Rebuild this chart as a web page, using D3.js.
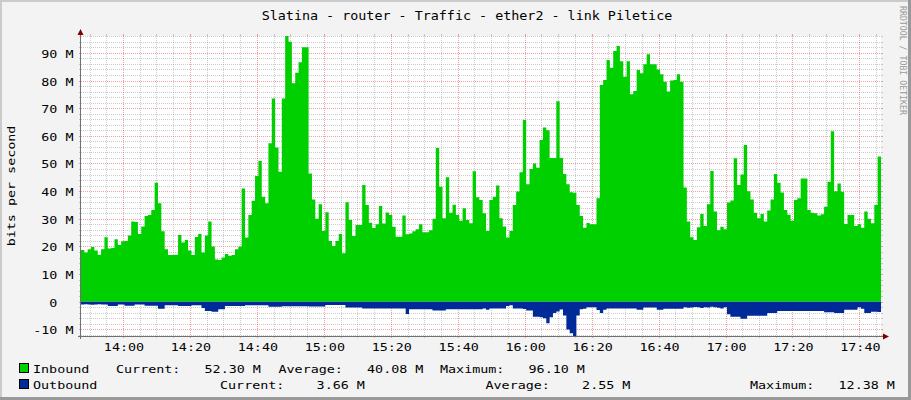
<!DOCTYPE html>
<html>
<head>
<meta charset="utf-8">
<script src="https://cdn.jsdelivr.net/npm/d3@7"></script>
<style>
  body { margin: 0; background: #fff; }
  text { font-family: "DejaVu Sans Mono", monospace; fill: #000; white-space: pre; }
</style>
</head>
<body>
<svg width="911" height="400"></svg>
<script>
// one sample per minute, Mbit/s
const startTime = new Date(2020, 0, 1, 13, 47, 27);
const stepMs = 60 * 1000;

const inbound = [
  18.7, 17.8, 19.0, 19.8, 18.5, 17.0, 19.0, 23.3, 19.3, 19.4,
  22.6, 20.5, 21.9, 22.0, 24.0, 29.0, 28.8, 24.5, 27.2, 31.0,
  31.4, 33.2, 43.0, 35.6, 25.5, 19.0, 16.9, 16.9, 17.0, 24.1,
  21.4, 22.3, 18.5, 16.9, 23.4, 24.5, 17.8, 24.0, 29.0, 20.0,
  15.3, 15.1, 16.0, 17.3, 16.6, 16.9, 19.0, 19.9, 41.0, 23.2,
  31.4, 36.5, 45.5, 50.9, 38.0, 35.6, 57.3, 73.5, 55.8, 47.0,
  73.5, 96.1, 94.0, 79.0, 82.8, 86.6, 92.0, 92.0, 46.4, 37.0,
  30.0, 35.3, 25.6, 32.4, 22.0, 20.2, 22.0, 24.5, 17.5, 36.0,
  29.6, 23.8, 27.8, 27.8, 42.2, 35.0, 28.6, 26.7, 28.0, 34.6,
  28.3, 32.3, 31.4, 27.1, 23.5, 23.5, 31.2, 24.4, 24.7, 25.5,
  26.2, 28.0, 25.1, 25.1, 25.9, 30.0, 55.6, 41.6, 30.2, 45.0,
  32.2, 35.1, 31.4, 29.3, 33.8, 29.6, 28.4, 47.2, 37.8, 36.8,
  32.0, 25.6, 36.8, 38.0, 42.0, 30.2, 27.2, 23.2, 25.6, 35.0,
  39.9, 46.8, 65.7, 42.5, 48.0, 50.0, 48.5, 58.5, 63.0, 62.0,
  52.0, 52.0, 72.5, 52.0, 46.2, 42.5, 39.6, 39.4, 35.0, 31.0,
  26.8, 28.5, 28.0, 28.0, 37.4, 78.4, 80.2, 87.4, 84.6, 90.7,
  92.5, 87.0, 81.4, 87.0, 75.0, 76.2, 83.8, 82.6, 85.9, 89.5,
  85.9, 85.9, 84.0, 82.3, 79.6, 76.0, 80.0, 80.2, 82.3, 79.6,
  41.3, 29.0, 23.3, 22.3, 26.9, 31.7, 27.4, 35.3, 47.3, 32.6,
  25.9, 27.1, 26.2, 35.9, 36.6, 51.9, 42.2, 46.0, 56.7, 40.0,
  37.0, 32.2, 30.2, 31.7, 29.0, 33.0, 37.0, 46.2, 43.0, 39.5,
  33.2, 31.5, 29.3, 36.8, 37.4, 44.6, 44.6, 33.2, 32.2, 32.0,
  31.2, 31.6, 34.4, 43.4, 61.7, 40.0, 42.8, 39.8, 28.1, 31.4,
  31.4, 27.4, 28.0, 26.8, 32.6, 30.0, 28.4, 35.0, 52.5
];

const outbound = [
  1.0, 0.9, 1.0, 1.1, 1.0, 0.9, 1.0, 1.0, 1.5, 1.5,
  1.5, 1.0, 1.0, 1.4, 1.4, 1.4, 1.0, 1.0, 1.0, 1.4,
  1.4, 1.4, 1.4, 2.5, 2.5, 1.3, 1.3, 1.3, 1.3, 1.5,
  1.5, 1.5, 1.5, 1.3, 1.3, 1.3, 2.3, 3.3, 3.3, 3.6,
  3.6, 2.7, 2.7, 1.5, 1.5, 1.5, 1.5, 1.5, 1.5, 1.3,
  1.3, 1.3, 1.3, 1.3, 1.3, 1.3, 1.8, 1.8, 1.8, 1.8,
  1.6, 1.6, 1.6, 1.6, 1.6, 1.6, 1.6, 1.6, 1.7, 1.7,
  1.7, 1.7, 1.7, 1.2, 1.2, 1.2, 1.2, 1.2, 1.2, 2.1,
  2.1, 2.1, 2.1, 2.1, 2.4, 2.4, 2.4, 2.4, 2.4, 2.4,
  2.4, 2.4, 2.4, 2.4, 2.4, 2.4, 2.4, 4.4, 2.7, 2.7,
  2.7, 2.7, 2.7, 2.7, 2.7, 3.2, 3.2, 3.2, 3.2, 2.7,
  2.7, 2.7, 2.7, 2.7, 2.7, 2.7, 2.7, 2.7, 2.7, 2.7,
  2.4, 2.9, 2.4, 2.4, 2.4, 2.4, 2.4, 1.5, 1.3, 2.4,
  2.4, 2.4, 2.6, 3.2, 3.2, 5.4, 5.4, 5.6, 6.0, 7.8,
  5.6, 4.1, 3.5, 2.8, 5.0, 10.0, 11.4, 12.38, 5.0, 2.7,
  2.5, 2.0, 2.0, 2.0, 3.0, 4.1, 2.9, 2.4, 2.4, 2.4,
  2.4, 2.4, 2.4, 2.4, 2.4, 2.4, 2.9, 2.9, 2.1, 2.1,
  2.1, 2.1, 2.9, 2.9, 2.5, 2.5, 2.5, 2.5, 2.5, 2.5,
  2.0, 2.2, 2.1, 1.9, 2.0, 2.3, 2.0, 2.1, 1.8, 2.0,
  2.2, 2.4, 2.0, 4.5, 5.4, 5.4, 5.4, 6.1, 6.1, 5.1,
  5.1, 5.1, 5.1, 5.1, 5.1, 4.1, 4.1, 4.1, 3.3, 3.3,
  3.3, 3.3, 3.3, 3.3, 3.3, 3.3, 3.3, 3.3, 3.3, 3.3,
  3.3, 3.3, 3.8, 3.8, 3.8, 4.1, 4.1, 4.1, 2.9, 2.9,
  2.9, 2.9, 2.0, 2.5, 4.1, 4.1, 3.6, 3.6, 3.66
];

const yDomain = [-12.38, 96.1];
const seriesNames = ["Inbound", "Outbound"];
const seriesColors = ["#00CF00", "#002A97"];
const currentVals = [52.30, 3.66];
const averageVals = [40.08, 2.55];
const maximumVals = [96.10, 12.38];
const titleText = "Slatina - router - Traffic - ether2 - link Piletice";
const yTitle = "bits per second";
const watermark = "RRDTOOL / TOBI OETIKER";

const CHAR_W = 8.05;   // rrdtool-ish monospace advance

let svg = d3.select("svg");
let W = 911, H = 400;
let pLeft = 81, pRight = 881, pTop = 36, pBottom = 336;

function mono(sel, str, size, adv) {
    return sel.text(str)
        .style("font-size", size + "px")
        .attr("xml:space", "preserve")
        .attr("textLength", str.length * (adv || CHAR_W))
        .attr("lengthAdjust", "spacingAndGlyphs");
}

// background + 3d shade
svg.append("rect").attr("width", W).attr("height", H).attr("fill", "#F3F3F3");
svg.append("path").attr("d", `M0,1H${W}M1,0V${H}`).attr("stroke", "#CBCBCB").attr("stroke-width", 2);
svg.append("path").attr("d", `M0,${H - 1.5}H${W}M${W - 1.5},0V${H}`).attr("stroke", "#999999").attr("stroke-width", 3);

svg.append("rect")
    .attr("x", pLeft).attr("y", pTop)
    .attr("width", pRight - pLeft).attr("height", pBottom - pTop)
    .attr("fill", "#fff");

let endTime = new Date(+startTime + inbound.length * stepMs);
let x = d3.scaleTime().domain([startTime, endTime]).range([pLeft, pRight]);
let y = d3.scaleLinear().domain(yDomain).range([pBottom, pTop]);

let minorCol = "rgba(143,143,143,0.45)";
let majorCol = "rgba(222,31,31,0.42)";

let gridLayer = svg.append("g").attr("class", "grid");

// horizontal grid
let yMinor = d3.range(-12, 97, 2).filter(v => v % 10 !== 0);
let yMajor = d3.range(-10, 91, 10);
function hLines(vals, col) {
    vals.forEach(v => {
        let py = Math.round(y(v)) + 0.5;
        gridLayer.append("line").attr("x1", pLeft).attr("x2", pRight).attr("y1", py).attr("y2", py)
            .attr("stroke", col).attr("stroke-dasharray", "1,1");
        gridLayer.append("path").attr("d", `M${pLeft - 2},${py}H${pLeft}M${pRight},${py}H${pRight + 2}`)
            .attr("stroke", col);
    });
}
hLines(yMinor, minorCol);
hLines(yMajor, majorCol);

// vertical grid
let xMinor = d3.timeMinute.every(5).range(startTime, endTime).filter(d => d.getMinutes() % 20 !== 0);
let xMajor = d3.timeMinute.every(20).range(startTime, endTime);
function vLines(vals, col) {
    vals.forEach(d => {
        let px = Math.round(x(d)) + 0.5;
        gridLayer.append("line").attr("x1", px).attr("x2", px).attr("y1", pTop).attr("y2", pBottom)
            .attr("stroke", col).attr("stroke-dasharray", "1,1");
        gridLayer.append("path").attr("d", `M${px},${pTop - 2}V${pTop}M${px},${pBottom}V${pBottom + 2}`)
            .attr("stroke", col);
    });
}
vLines(xMinor, minorCol);
vLines(xMajor, majorCol);

// areas
function toPoints(arr, sign) {
    let pts = arr.map((v, i) => ({ t: new Date(+startTime + i * stepMs), v: sign * v }));
    pts.push({ t: endTime, v: sign * arr[arr.length - 1] });
    return pts;
}
let area = d3.area()
    .x(d => x(d.t))
    .y0(y(0))
    .y1(d => y(d.v))
    .curve(d3.curveStepAfter);

svg.append("path").datum(toPoints(inbound, 1)).attr("d", area).attr("fill", seriesColors[0]);
svg.append("path").datum(toPoints(outbound, -1)).attr("d", area).attr("fill", seriesColors[1]);

// axes
let axisCol = "#707070";
svg.append("line").attr("x1", pLeft - 3).attr("x2", pRight + 3).attr("y1", pBottom + 0.5).attr("y2", pBottom + 0.5)
    .attr("stroke", axisCol);
svg.append("line").attr("x1", pLeft - 0.5).attr("x2", pLeft - 0.5).attr("y1", pBottom + 3).attr("y2", pTop - 3)
    .attr("stroke", axisCol);
svg.append("path").attr("d", `M${pLeft - 3.5},${pTop - 1}L${pLeft + 2.5},${pTop - 1}L${pLeft - 0.5},${pTop - 7}Z`)
    .attr("fill", "#800000");
svg.append("path").attr("d", `M${pRight + 2},${pBottom - 2.5}L${pRight + 2},${pBottom + 3.5}L${pRight + 8},${pBottom + 0.5}Z`)
    .attr("fill", "#800000");

// y labels
yMajor.forEach(v => {
    let label = v === 0 ? "0  " : v + " M";
    mono(svg.append("text"), label, 11)
        .attr("x", 73.5).attr("y", Math.round(y(v)) + 5)
        .attr("text-anchor", "end");
});

// x labels
let fmt = d3.timeFormat("%H:%M");
xMajor.forEach(d => {
    mono(svg.append("text"), fmt(d), 11)
        .attr("x", x(d) + 1).attr("y", 350.5)
        .attr("text-anchor", "middle");
});

// title, axis title, watermark
mono(svg.append("text"), titleText, 12)
    .attr("x", 467).attr("y", 19.5).attr("text-anchor", "middle");

mono(svg.append("text"), yTitle, 11)
    .attr("transform", "translate(15,186) rotate(-90)")
    .attr("text-anchor", "middle");

mono(svg.append("text"), watermark, 8, 4.95)
    .attr("transform", "translate(900,6) rotate(90)")
    .style("fill", "#999");

// legend
let legendY = [373, 389];
let colX = [[116, 278.5, 440], [220, 485.5, 750]];
seriesNames.forEach((name, i) => {
    svg.append("rect")
        .attr("x", 19.5).attr("y", legendY[i] - 9.5)
        .attr("width", 9).attr("height", 9)
        .attr("fill", seriesColors[i]).attr("stroke", "#000");
    mono(svg.append("text"), name, 11).attr("x", 33).attr("y", legendY[i]);
    let parts = [
        "Current:" + currentVals[i].toFixed(2).padStart(8) + " M",
        "Average:" + averageVals[i].toFixed(2).padStart(8) + " M",
        "Maximum:" + maximumVals[i].toFixed(2).padStart(8) + " M"
    ];
    parts.forEach((p, j) => {
        mono(svg.append("text"), p, 11).attr("x", colX[i][j]).attr("y", legendY[i]);
    });
});
</script>
</body>
</html>
